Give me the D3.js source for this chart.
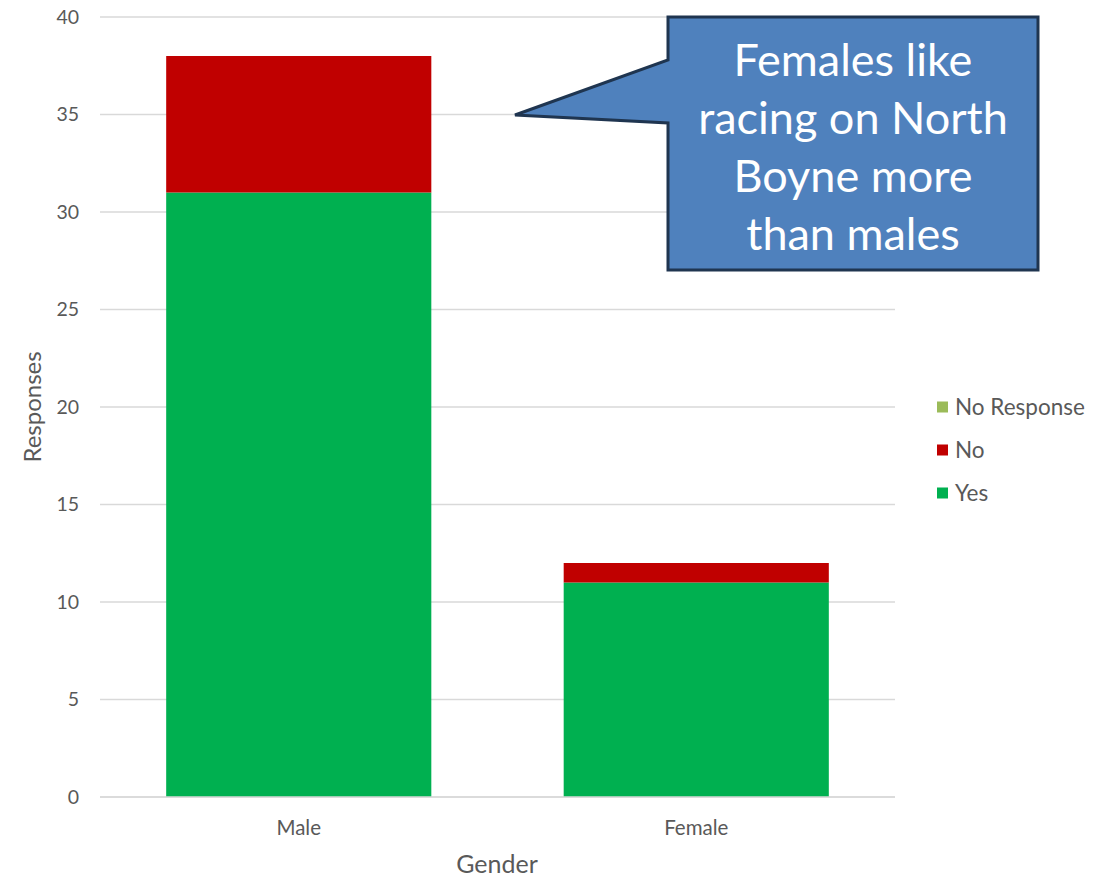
<!DOCTYPE html>
<html><head><meta charset="utf-8">
<script src="https://cdn.jsdelivr.net/npm/d3@7"></script>
<style>body{margin:0;background:#fff}svg{display:block}text{font-family:Lato,"Open Sans",sans-serif}</style>
</head><body>
<svg id="chart" width="1117" height="881"></svg>
<script>
const categories = ["Male", "Female"];
const seriesNames = ["Yes", "No", "No Response"];
const yesValues = [31, 11];
const noValues = [7, 1];
const noResponseValues = [0, 0];
const yTicks = [0, 5, 10, 15, 20, 25, 30, 35, 40];
const colors = {"Yes": "#00b050", "No": "#c00000", "No Response": "#9bbb59"};
const calloutLines = ["Females like", "racing on North", "Boyne more", "than males"];

(function () {
const svg = d3.select("#chart");
const pLeft = 100, pRight = 895, pTop = 17, pBottom = 797;
const x = d3.scaleBand().domain(categories).range([pLeft, pRight]).paddingInner(0.333).paddingOuter(0.1665);
const y = d3.scaleLinear().domain([0, 40]).range([pBottom, pTop]);
const textColor = "#595959";

svg.append("g").selectAll("line").data(yTicks).join("line")
  .attr("x1", pLeft).attr("x2", pRight)
  .attr("y1", d => y(d)).attr("y2", d => y(d))
  .attr("stroke", "#d9d9d9").attr("stroke-width", 1.3);

svg.append("g").selectAll("text").data(yTicks).join("text")
  .attr("x", 79).attr("y", d => y(d)).attr("dy", "0.35em")
  .attr("text-anchor", "end").attr("fill", textColor).attr("font-size", 19.5).text(d => d);

const table = categories.map((c, i) => ({cat: c, "Yes": yesValues[i], "No": noValues[i], "No Response": noResponseValues[i]}));
const stack = d3.stack().keys(seriesNames)(table);
svg.append("g").selectAll("g").data(stack).join("g")
  .attr("fill", d => colors[d.key])
  .selectAll("rect").data(d => d).join("rect")
  .attr("x", d => x(d.data.cat)).attr("width", x.bandwidth())
  .attr("y", d => y(d[1])).attr("height", d => y(d[0]) - y(d[1]));

svg.append("line").attr("x1", pLeft).attr("x2", pRight).attr("y1", y(0)).attr("y2", y(0))
  .attr("stroke", "#d9d9d9").attr("stroke-width", 1.3);

svg.append("g").selectAll("text").data(categories).join("text")
  .attr("x", d => x(d) + x.bandwidth() / 2).attr("y", 835)
  .attr("text-anchor", "middle").attr("fill", textColor).attr("font-size", 20.5).text(d => d);

svg.append("text").attr("x", 497).attr("y", 873).attr("text-anchor", "middle")
  .attr("fill", textColor).attr("font-size", 25).text("Gender");
svg.append("text").attr("transform", "translate(41,407) rotate(-90)").attr("text-anchor", "middle")
  .attr("fill", textColor).attr("font-size", 24).text("Responses");

const legendOrder = ["No Response", "No", "Yes"];
const lg = svg.append("g").selectAll("g").data(legendOrder).join("g")
  .attr("transform", (d, i) => `translate(937,${407 + i * 43})`);
lg.append("rect").attr("x", 0).attr("y", -5.5).attr("width", 11).attr("height", 11).attr("fill", d => colors[d]);
lg.append("text").attr("x", 18).attr("y", 0).attr("dy", "0.35em").attr("fill", textColor).attr("font-size", 22.5).text(d => d);

const cx0 = 668, cx1 = 1038, cy0 = 17, cy1 = 270;
const tip = [515, 115];
const path = d3.path();
path.moveTo(cx0, cy0); path.lineTo(cx1, cy0); path.lineTo(cx1, cy1); path.lineTo(cx0, cy1);
path.lineTo(cx0, 123); path.lineTo(tip[0], tip[1]); path.lineTo(cx0, 60); path.closePath();
svg.append("path").attr("d", path.toString()).attr("fill", "#4f81bd")
  .attr("stroke", "#1f3550").attr("stroke-width", 3).attr("stroke-linejoin", "miter");
svg.append("g").selectAll("text").data(calloutLines).join("text")
  .attr("x", 853).attr("y", (d, i) => 76 + i * 58).attr("text-anchor", "middle")
  .attr("fill", "#fff").attr("font-size", 45).text(d => d);
})();
</script>
</body></html>
